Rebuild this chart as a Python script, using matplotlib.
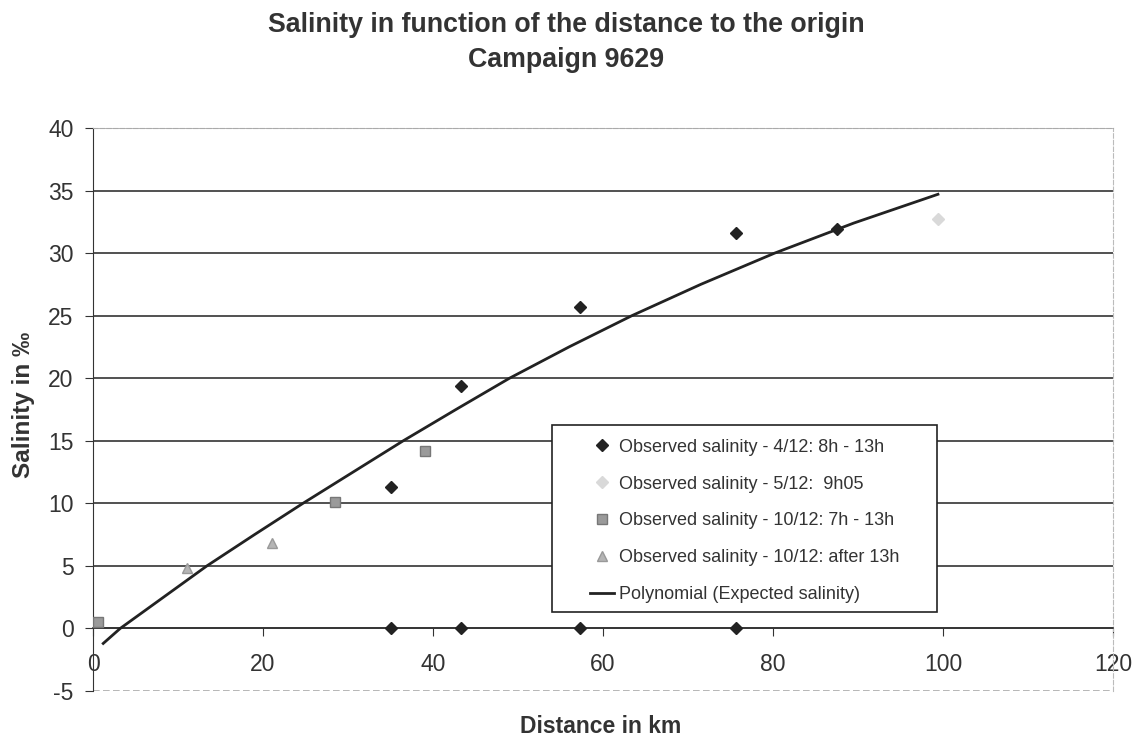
import numpy as np
import matplotlib.pyplot as plt
from matplotlib.patches import Rectangle

plt.rcParams['font.family'] = ['Liberation Sans', 'DejaVu Sans']
plt.rcParams['axes.unicode_minus'] = False

# Observed salinity - 4/12: 8h - 13h
obs1_x = [35.0, 43.3, 57.3, 75.6, 87.5, 35.0, 43.3, 57.3, 75.6]
obs1_y = [11.3, 19.4, 25.7, 31.6, 31.9, 0.0, 0.0, 0.0, 0.0]
# Observed salinity - 5/12: 9h05
obs2_x = [99.4]
obs2_y = [32.7]
# Observed salinity - 10/12: 7h - 13h
obs3_x = [0.6, 28.5, 39.1]
obs3_y = [0.5, 10.1, 14.2]
# Observed salinity - 10/12: after 13h
obs4_x = [11.0, 21.1]
obs4_y = [4.8, 6.85]
# trend line, points
poly_x = [1.2, 3.2, 8.3, 13.4, 19.0, 24.7, 30.6, 36.5, 42.7, 49.0, 56.0, 63.4, 71.5, 80.2, 89.5, 99.4]
poly_y = [-1.2, 0.0, 2.5, 5.0, 7.5, 10.0, 12.5, 15.0, 17.5, 20.0, 22.5, 25.0, 27.5, 30.0, 32.4, 34.7]

xticks = [0, 20, 40, 60, 80, 100, 120]
yticks = [-5, 0, 5, 10, 15, 20, 25, 30, 35, 40]

txt = '#333333'

fig = plt.figure(figsize=(11.33, 7.38), dpi=100)
ax = fig.add_axes([0.0821, 0.0637, 0.9003, 0.7629])

ax.plot(obs1_x, obs1_y, linestyle='none', marker='D', markersize=6,
        color='#222222', label='Observed salinity - 4/12: 8h - 13h', zorder=4)
ax.plot(obs2_x, obs2_y, linestyle='none', marker='D', markersize=6,
        color='#d9d9d9', label='Observed salinity - 5/12:  9h05', zorder=4)
ax.plot(obs3_x, obs3_y, linestyle='none', marker='s', markersize=7,
        markerfacecolor='#9a9a9a', markeredgecolor='#777777',
        label='Observed salinity - 10/12: 7h - 13h', zorder=4)
ax.plot(obs4_x, obs4_y, linestyle='none', marker='^', markersize=7,
        markerfacecolor='#b5b5b5', markeredgecolor='#999999',
        label='Observed salinity - 10/12: after 13h', zorder=4)
ax.plot(poly_x, poly_y, color='#222222', linewidth=2,
        label='Polynomial (Expected salinity)', zorder=5)

ax.set_xlim(0, 120)
ax.set_ylim(-5, 40)
ax.set_xticks(xticks)
ax.set_yticks(yticks)

ax.spines['bottom'].set_position(('data', 0))
ax.spines['bottom'].set_color('#333333')
ax.spines['bottom'].set_linewidth(1.2)
ax.spines['left'].set_color('#333333')
ax.spines['top'].set_color('#aaaaaa')
ax.spines['top'].set_linestyle((0, (4, 2)))
ax.spines['right'].set_color('#bbbbbb')
ax.spines['right'].set_linestyle((0, (4, 2)))

ax.yaxis.grid(True, color='#333333', linewidth=1.2)
ax.set_axisbelow(True)
gl = ax.get_ygridlines()
gl[0].set_color('#aaaaaa')
gl[0].set_linestyle((0, (4, 2)))
gl[-1].set_color('#aaaaaa')

ax.tick_params(axis='both', direction='out', length=6, labelsize=16.5,
               labelcolor=txt, color='#333333')
ax.tick_params(axis='y', pad=8)
ax.tick_params(axis='x', pad=12)

fig.text(0.5, 0.9566, 'Salinity in function of the distance to the origin',
         ha='center', va='baseline', fontsize=19.3, fontweight='bold', color=txt)
fig.text(0.5, 0.909, 'Campaign 9629', ha='center', va='baseline',
         fontsize=19.3, fontweight='bold', color=txt)
fig.text(0.530, 0.016, 'Distance in km', ha='center', va='center',
         fontsize=16.5, fontweight='bold', color=txt)
fig.text(0.021, 0.451, 'Salinity in ‰', ha='center', va='center',
         rotation=90, fontsize=17.5, fontweight='bold', color=txt)

# legend frame drawn separately (wider side margins than matplotlib's)
ax.add_patch(Rectangle((0.450, 0.1403), 0.3775, 0.3322, transform=ax.transAxes,
                       facecolor='white', edgecolor='#222222', linewidth=1.2,
                       zorder=6))
leg = ax.legend(loc='upper left', bbox_to_anchor=(0.4873, 0.448),
                borderaxespad=0, borderpad=0, fontsize=13, frameon=False,
                labelspacing=1.1, handlelength=1.3, handletextpad=0.3,
                labelcolor=txt)
leg.set_zorder(7)

fig.savefig('out.png', dpi=100)
